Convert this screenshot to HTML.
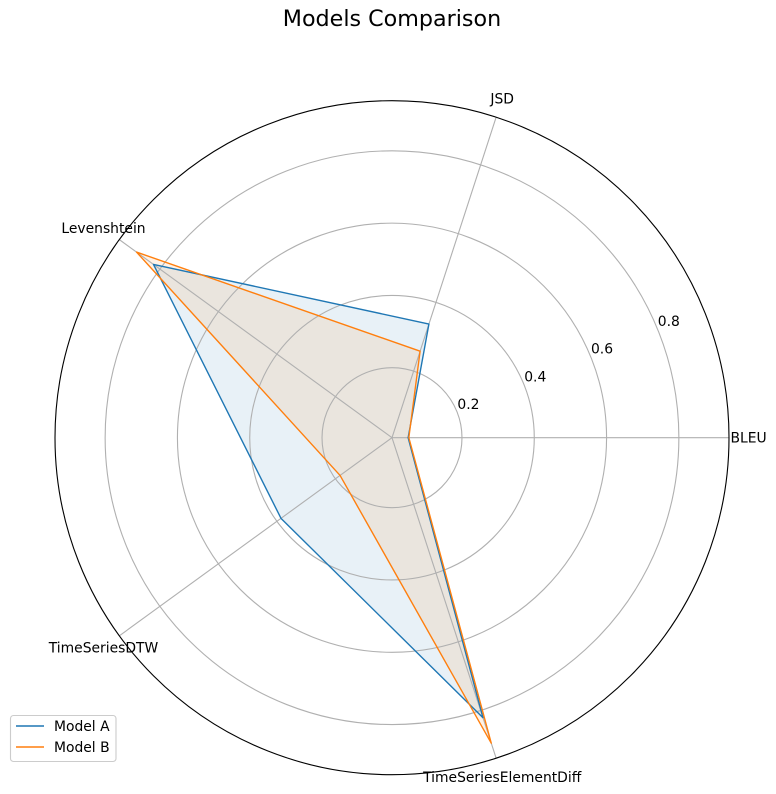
<!DOCTYPE html>
<html lang="en">
<head>
<meta charset="utf-8">
<title>Models Comparison</title>
<style>
html,body{margin:0;padding:0;background:#fff;width:776px;height:794px;overflow:hidden}
svg{display:block}
text{font-family:"DejaVu Sans",sans-serif;fill:#000}
</style>
</head>
<body>
<svg id="chart" width="776" height="794" viewBox="0 0 776 794" xmlns="http://www.w3.org/2000/svg">
  <rect x="0" y="0" width="776" height="794" fill="#fff"/>
  <text x="392" y="26" text-anchor="middle" font-size="22.22">Models Comparison</text>
  <g id="fills"></g>
  <g id="grid"></g>
  <g id="lines"></g>
  <circle id="spine" fill="none" stroke="#000" stroke-width="1.11"/>
  <g id="labels"></g>
  <g>
    <rect x="10.5" y="715.5" width="105.5" height="46" rx="3" ry="3" fill="#fff" fill-opacity="0.8" stroke="#ccc" stroke-width="1.11"/>
    <line x1="16" x2="44" y1="726" y2="726" stroke="#1f77b4" stroke-width="1.39"/>
    <text x="54" y="731" font-size="13.89">Model A</text>
    <line x1="16" x2="44" y1="747" y2="747" stroke="#ff7f0e" stroke-width="1.39"/>
    <text x="54" y="752" font-size="13.89">Model B</text>
  </g>
</svg>
<script>
const categories = ["BLEU", "JSD", "Levenshtein", "TimeSeriesDTW", "TimeSeriesElementDiff"];
const modelA = [0.051, 0.337, 0.822, 0.386, 0.821];
const modelB = [0.053, 0.258, 0.880, 0.184, 0.895];
const radialTicks = [0.2, 0.4, 0.6, 0.8];
const rMin = 0.0064;
const rMax = 0.9387;

const NS = "http://www.w3.org/2000/svg";
const cx = 392, cy = 437.7, R = 337;
const rScale = v => (v - rMin) / (rMax - rMin) * R;
const angleOf = i => i / categories.length * 2 * Math.PI;
const px = (v, a) => cx + rScale(v) * Math.cos(a);
const py = (v, a) => cy - rScale(v) * Math.sin(a);
const make = (tag, attrs) => {
  const el = document.createElementNS(NS, tag);
  for (const k in attrs) el.setAttribute(k, attrs[k]);
  return el;
};
const fills = document.getElementById("fills");
const grid = document.getElementById("grid");
const lines = document.getElementById("lines");
const labels = document.getElementById("labels");

const spine = document.getElementById("spine");
spine.setAttribute("cx", cx);
spine.setAttribute("cy", cy);
spine.setAttribute("r", R);

radialTicks.forEach(t => {
  const ring = make("circle", {cx: cx, cy: cy, r: rScale(t), fill: "none", stroke: "#b0b0b0", "stroke-width": 1.11});
  
  
  grid.appendChild(ring);
  const a = 22.5 * Math.PI / 180;
  const label = make("text", {x: px(t, a) + 11.8, y: py(t, a) - 7 + 5, "text-anchor": "middle", "font-size": 13.89});
  
  
  label.textContent = t.toFixed(1);
  labels.appendChild(label);
});

categories.forEach((c, i) => {
  const a = angleOf(i);
  const spoke = make("line", {x1: cx, y1: cy, x2: cx + R * Math.cos(a), y2: cy - R * Math.sin(a), stroke: "#b0b0b0", "stroke-width": 1.11});
  
  
  grid.appendChild(spoke);
  const label = make("text", {x: cx + (R + 19.6) * Math.cos(a), y: cy - (R + 19.6) * Math.sin(a) + 5, "text-anchor": "middle", "font-size": 13.89});
  
  
  label.textContent = c;
  labels.appendChild(label);
});

const drawSeries = (values, color) => {
  const pts = values.map((v, i) => px(v, angleOf(i)).toFixed(2) + "," + py(v, angleOf(i)).toFixed(2)).join(" ");
  const area = make("polygon", {points: pts, fill: color, "fill-opacity": 0.1, stroke: "none"});
  
  
  fills.appendChild(area);
  const outline = make("polygon", {points: pts, fill: "none", stroke: color, "stroke-width": 1.39, "stroke-linejoin": "round"});
  
  
  lines.appendChild(outline);
};
drawSeries(modelA, "#1f77b4");
drawSeries(modelB, "#ff7f0e");
</script>
</body>
</html>
